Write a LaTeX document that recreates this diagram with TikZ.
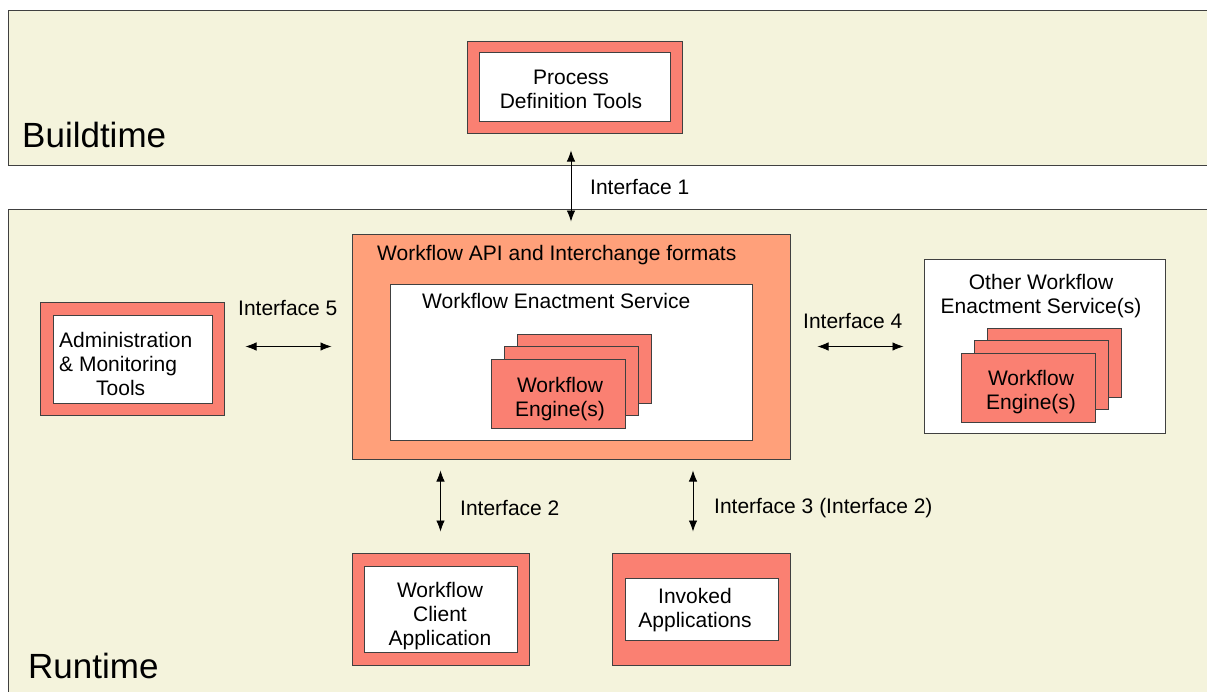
\documentclass[tikz,border=0pt]{standalone}
\usepackage{fontspec}
\setmainfont{Liberation Sans}
\usetikzlibrary{arrows.meta,calc}

\definecolor{panelbg}{RGB}{244,243,220}
\definecolor{boxred}{RGB}{250,128,114}
\definecolor{apibg}{RGB}{255,160,122}
\definecolor{edgegray}{RGB}{64,64,64}

\tikzset{
  panel/.style={draw=edgegray, fill=panelbg, line width=0.8},
  outerbox/.style={draw=edgegray, fill=boxred, line width=1, inner sep=0},
  innerbox/.style={draw=edgegray, fill=white, line width=1, align=center, inner sep=0},
  enginebox/.style={draw=edgegray, fill=boxred, line width=1, minimum width=134, minimum height=69, align=center, inner sep=0},
  iface/.style={{Latex[length=11,width=8.5]}-{Latex[length=11,width=8.5]}, line width=0.8},
  lbl/.style={inner sep=0, anchor=west},
  bigtext/.style={font=\fontsize{35}{40}\selectfont, inner sep=0, anchor=base west}
}

\begin{document}
\begin{tikzpicture}[x=1pt,y=1pt,yscale=-1,xscale=1, font=\fontsize{21}{24}\selectfont]
\useasboundingbox (0,0) rectangle (1207,691);

%Shape: Rectangle [background]
\fill[white] (0,0) rectangle (1207,691);
%Shape: Rectangle [buildtime panel]
\draw[panel] (8,10) rectangle (1220,165);
%Shape: Rectangle [runtime panel]
\draw[panel] (8,209) rectangle (1220,710);

% Text Node
\node[bigtext] (buildlbl) at (22,147) {Buildtime};
% Text Node
\node[bigtext] (runlbl) at (28,678) {Runtime};

%Shape: Process definition tools
\node[outerbox, minimum width=215, minimum height=92] (pdt) at (574.5,87) {};
\node[innerbox, minimum width=191, minimum height=69] (pdtin) at (574.5,86.5) {};
\node[inner sep=0, align=center] (pdtlbl) at (571,89) {Process\\Definition Tools};

%Shape: Workflow API
\node[outerbox, fill=apibg, minimum width=438, minimum height=225] (api) at (571,346.5) {};
\node[lbl] (apilbl) at (377,255) {Workflow API and Interchange formats};
\node[innerbox, minimum width=362, minimum height=156] (wes) at (571,362) {};
\node[lbl] (weslbl) at (422,301) {Workflow Enactment Service};
\node[enginebox] (engback) at (584,368.5) {};
\node[enginebox] (engmid) at (571.5,381) {};
\node[enginebox] (engfront) at (558.5,393.5) {};
\node[inner sep=0, align=center] (englbl) at (560,399) {Workflow\\Engine(s)};

%Shape: Other enactment services
\node[innerbox, minimum width=241, minimum height=174] (other) at (1044.5,346) {};
\node[inner sep=0, align=center] (otherlbl) at (1041,296) {Other Workflow\\Enactment Service(s)};
\node[enginebox] (oengback) at (1054,362.5) {};
\node[enginebox] (oengmid) at (1041.5,374.5) {};
\node[enginebox] (oengfront) at (1028.5,387.5) {};
\node[inner sep=0, align=center] (oenglbl) at (1031,392) {Workflow\\Engine(s)};

%Shape: Administration
\node[outerbox, minimum width=184, minimum height=113] (admin) at (132,358.5) {};
\node[innerbox, minimum width=159, minimum height=88] (adminin) at (132.5,359) {};
\node[lbl, align=left] (adminlbl) at (59,364) {Administration\\\& Monitoring\\\hspace*{37pt}Tools};

%Shape: Client application
\node[outerbox, minimum width=177, minimum height=112] (client) at (440.5,609) {};
\node[innerbox, minimum width=153, minimum height=86] (clientin) at (440.5,609) {};
\node[inner sep=0, align=center] (clientlbl) at (440,616) {Workflow\\Client\\Application};

%Shape: Invoked applications
\node[outerbox, minimum width=178, minimum height=112] (invoked) at (701,609) {};
\node[innerbox, minimum width=153, minimum height=62] (invokedin) at (701.5,609) {};
\node[inner sep=0, align=center] (invokedlbl) at (695,610) {Invoked\\Applications};

% Interfaces
\coordinate (i3top) at ([xshift=-8]invoked.north);
\draw[iface, shorten <=17, shorten >=12] (api.north |- pdt.south) -- (api.north);
\draw[iface, shorten <=21, shorten >=20] (admin.east |- api.west) -- (api.west);
\draw[iface, shorten <=27, shorten >=20] (api.east) -- (other.west |- api.east);
\draw[iface, shorten <=11, shorten >=21] (client.north |- api.south) -- (client.north);
\draw[iface, shorten <=11, shorten >=21] (i3top |- api.south) -- (i3top);

% Text Node
\node[lbl] (if1) at (590,187) {Interface 1};
\node[lbl] (if5) at (238,308) {Interface 5};
\node[lbl] (if4) at (803,321) {Interface 4};
\node[lbl] (if2) at (460,508) {Interface 2};
\node[lbl] (if3) at (714,508) {Interface 3 (Interface 2)};

\end{tikzpicture}
\end{document}
